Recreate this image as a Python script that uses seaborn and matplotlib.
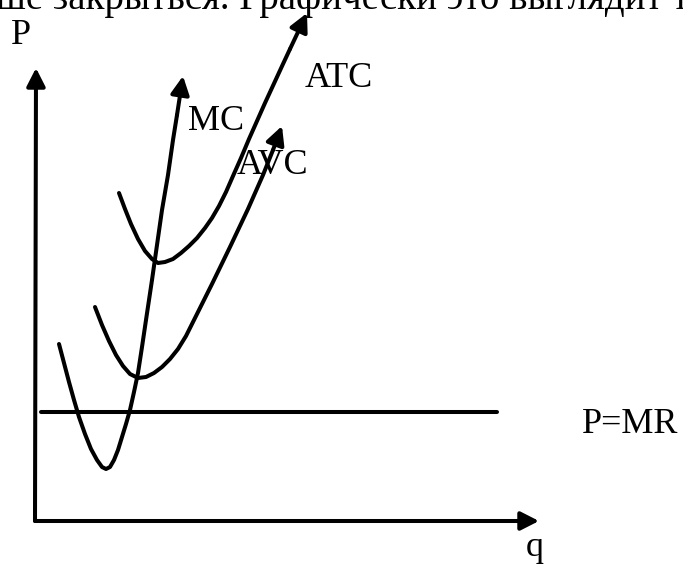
import matplotlib
matplotlib.use("Agg")
import matplotlib.pyplot as plt
import seaborn as sns

# curve points (pixel coords, y down)
mc_x = [59, 64, 69, 74, 79, 85, 91, 97, 102, 106, 110, 114, 118, 122, 126, 130, 134, 138, 142, 146, 152, 157, 162, 168, 173, 177]
mc_y = [344, 363, 382, 400, 417, 434, 449, 460, 467, 469, 467, 460, 450, 437, 424, 410, 392, 373, 347, 320, 280, 245, 210, 175, 140, 115]
mc_tip = (183, 76)

atc_x = [119, 125, 131, 138, 145, 152, 158, 165, 173, 181, 189, 197, 205, 212, 219, 226, 233, 241, 249, 265, 283, 290]
atc_y = [193, 209, 224, 239, 251, 259, 263, 262, 259, 253, 246, 238, 228, 218, 206, 192, 176, 158, 139, 103, 64, 49]
atc_tip = (307, 13)

avc_x = [95, 102, 109, 116, 123, 130, 138, 146, 154, 162, 170, 178, 186, 194, 202, 212, 230, 248, 263, 273]
avc_y = [307, 325, 341, 355, 366, 374, 378, 377, 373, 367, 359, 349, 336, 320, 304, 284, 247, 209, 175, 150]
avc_tip = (282, 126)

mr_x = [41, 497]
mr_y = [412, 412]

origin = (35, 521)
p_axis_tip = (36, 68)
q_axis_tip = (539, 521)

labels = ["P", "ATC", "MC", "AVC", "P=MR", "q"]
label_x = [11, 305, 188, 237, 582, 526]
label_y = [44, 87, 130, 174, 433, 556]

# cut-off line of page text above the figure
top_line = "ше закрыться. Графически это выглядит та"

sns.set_theme(style="white")
plt.rcParams['font.family'] = ['Liberation Serif', 'DejaVu Serif']
plt.rcParams['text.color'] = 'black'

fig = plt.figure(figsize=(6.83, 5.67), dpi=100)
ax = fig.add_axes([0, 0, 1, 1])
ax.set_xlim(0, 683)
ax.set_ylim(567, 0)
ax.axis("off")

lw = 2.9
for xs, ys in [(mc_x, mc_y), (atc_x, atc_y), (avc_x, avc_y), (mr_x, mr_y)]:
    sns.lineplot(x=xs, y=ys, sort=False, estimator=None, color="black", lw=lw, ax=ax)

head = dict(arrowstyle="-|>,head_length=0.55,head_width=0.28", color="black",
            lw=lw, shrinkA=0, shrinkB=0, mutation_scale=20)
for xs, ys, tip in [(mc_x, mc_y, mc_tip), (atc_x, atc_y, atc_tip), (avc_x, avc_y, avc_tip)]:
    ax.annotate("", xy=tip, xytext=(xs[-1], ys[-1]), arrowprops=head)

# axes
ax.annotate("", xy=p_axis_tip, xytext=origin, arrowprops=head)
ax.annotate("", xy=q_axis_tip, xytext=origin, arrowprops=head)

for t, x, y in zip(labels, label_x, label_y):
    ax.text(x, y, t, fontsize=26, va="baseline", ha="left", color="black")

ax.text(-4, 9, top_line, fontsize=28, va="baseline", ha="left", color="black")

fig.savefig("out.png", dpi=100)
